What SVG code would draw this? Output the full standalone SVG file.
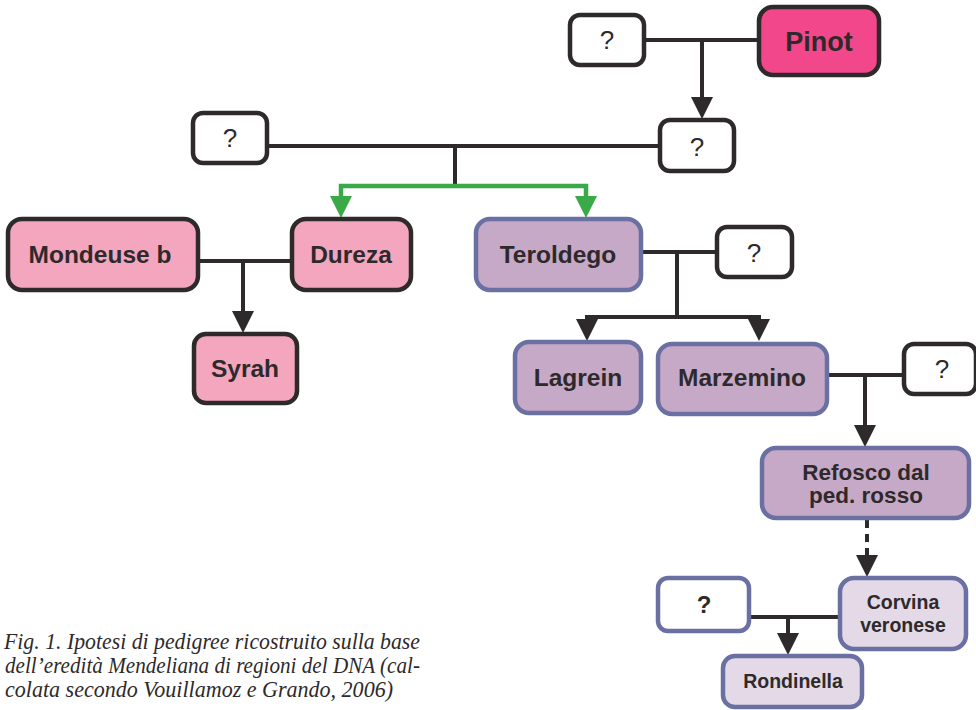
<svg xmlns="http://www.w3.org/2000/svg" width="976" height="710" viewBox="0 0 976 710">
<defs>
<style>
.k{fill:#fff;stroke:#2e2a2b;stroke-width:4.5}
.kb{fill:#fff;stroke:#6b70a2;stroke-width:4.5}
.pk{fill:#f3478b;stroke:#2e2a2b;stroke-width:4.5}
.lp{fill:#f3a6be;stroke:#2e2a2b;stroke-width:4.5}
.pu{fill:#c6a9c7;stroke:#6b70a2;stroke-width:4.5}
.lv{fill:#e3d9e7;stroke:#6b70a2;stroke-width:4.5}
.t{font-family:"Liberation Sans",Arial,sans-serif;font-weight:bold;fill:#2e2a2b;text-anchor:middle}
.q{font-family:"Liberation Sans",Arial,sans-serif;font-size:26px;fill:#2e2a2b;text-anchor:middle}
.c{fill:none;stroke:#2e2a2b;stroke-width:4}
.g{fill:none;stroke:#3aaa48;stroke-width:4.5}
.cap{font-family:"Liberation Serif","Times New Roman",serif;font-style:italic;font-size:24px;fill:#2e2a2b}
</style>
<marker id="ak" markerUnits="userSpaceOnUse" viewBox="0 0 22 22" markerWidth="22" markerHeight="22" refX="12" refY="11" orient="auto"><path d="M0,0 L22,11 L0,22 Z" fill="#2e2a2b"/></marker>
<marker id="ag" markerUnits="userSpaceOnUse" viewBox="0 0 22 22" markerWidth="22" markerHeight="22" refX="12" refY="11" orient="auto"><path d="M0,0 L22,11 L0,22 Z" fill="#3aaa48"/></marker>
</defs>

<g id="connectors">
<path class="c" d="M644,40 H759"/>
<path class="c" d="M702,40 V109" marker-end="url(#ak)"/>
<path class="c" d="M267,146 H660"/>
<path class="c" d="M455,146 V187"/>
<path class="g" d="M455,186 H341 V208" marker-end="url(#ag)"/>
<path class="g" d="M455,186 H586 V208" marker-end="url(#ag)"/>
<path class="c" d="M198,261 H292"/>
<path class="c" d="M243,261 V323" marker-end="url(#ak)"/>
<path class="c" d="M641,252 H717"/>
<path class="c" d="M677,252 V317"/>
<path class="c" d="M677,317 H587 V331" marker-end="url(#ak)"/>
<path class="c" d="M677,317 H759 V331" marker-end="url(#ak)"/>
<path class="c" d="M827,375 H904"/>
<path class="c" d="M865,375 V437" marker-end="url(#ak)"/>
<path class="c" d="M867,520 V567" stroke-dasharray="8,6" marker-end="url(#ak)"/>
<path class="c" d="M749,617 H840"/>
<path class="c" d="M788,617 V645" marker-end="url(#ak)"/>
</g>

<g id="q1"><rect class="k" x="570" y="15" width="74" height="50" rx="10"/><text class="q" x="607" y="49">?</text></g>
<g id="pinot"><rect class="pk" x="759" y="7" width="120" height="68" rx="14"/><text class="t" x="819" y="51" font-size="27">Pinot</text></g>
<g id="q2"><rect class="k" x="660" y="120" width="74" height="51" rx="10"/><text class="q" x="697" y="156">?</text></g>
<g id="q3"><rect class="k" x="193" y="113" width="74" height="50" rx="10"/><text class="q" x="230" y="147">?</text></g>
<g id="mondeuse"><rect class="lp" x="8" y="219" width="190" height="71" rx="14"/><text class="t" x="100" y="263" font-size="24.5">Mondeuse b</text></g>
<g id="dureza"><rect class="lp" x="292" y="219" width="119" height="71" rx="14"/><text class="t" x="351" y="263" font-size="24.5">Dureza</text></g>
<g id="syrah"><rect class="lp" x="194" y="334" width="103" height="69" rx="12"/><text class="t" x="245" y="377" font-size="24.5">Syrah</text></g>
<g id="teroldego"><rect class="pu" x="476" y="219" width="165" height="71" rx="14"/><text class="t" x="558" y="263" font-size="24.5">Teroldego</text></g>
<g id="q4"><rect class="k" x="717" y="227" width="75" height="50" rx="10"/><text class="q" x="754" y="262">?</text></g>
<g id="lagrein"><rect class="pu" x="515" y="342" width="126" height="71" rx="14"/><text class="t" x="578" y="386" font-size="24.5">Lagrein</text></g>
<g id="marzemino"><rect class="pu" x="658" y="344" width="169" height="70" rx="14"/><text class="t" x="742" y="386" font-size="24.5">Marzemino</text></g>
<g id="q5"><rect class="k" x="904" y="344" width="72" height="50" rx="10"/><text class="q" x="942" y="378">?</text></g>
<g id="refosco"><rect class="pu" x="762" y="448" width="207" height="70" rx="14"/><text class="t" x="866" y="480" font-size="22.5">Refosco dal</text><text class="t" x="866" y="503" font-size="22.5">ped. rosso</text></g>
<g id="corvina"><rect class="lv" x="840" y="578" width="126" height="71" rx="14"/><text class="t" x="903" y="609" font-size="19.5">Corvina</text><text class="t" x="903" y="632" font-size="19.5">veronese</text></g>
<g id="q6"><rect class="kb" x="658" y="578" width="91" height="53" rx="10"/><text class="t" x="704" y="613" font-size="24">?</text></g>
<g id="rondinella"><rect class="lv" x="723" y="656" width="139" height="51" rx="12"/><text class="t" x="793" y="688" font-size="19.5">Rondinella</text></g>

<g id="caption">
<text class="cap" x="4" y="649" textLength="416" lengthAdjust="spacingAndGlyphs">Fig. 1. Ipotesi di pedigree ricostruito sulla base</text>
<text class="cap" x="5" y="673" textLength="415" lengthAdjust="spacingAndGlyphs">dell’eredità Mendeliana di regioni del DNA (cal-</text>
<text class="cap" x="5" y="697" textLength="388" lengthAdjust="spacingAndGlyphs">colata secondo Vouillamoz e Grando, 2006)</text>
</g>
</svg>
